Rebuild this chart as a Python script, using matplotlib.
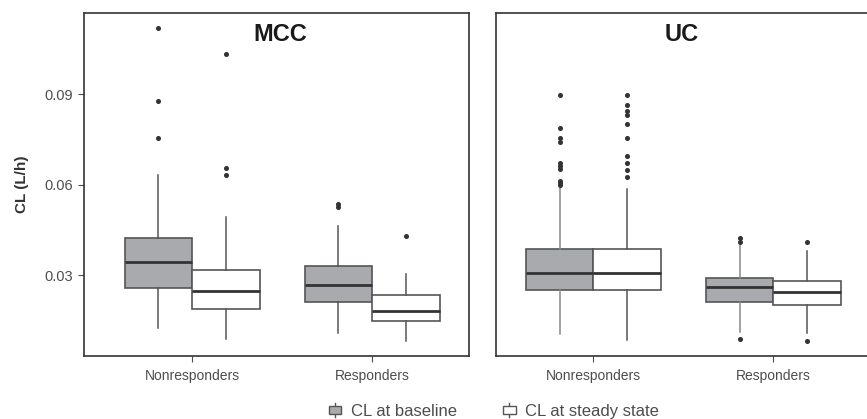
import numpy as np
import matplotlib
matplotlib.use("Agg")
import matplotlib.pyplot as plt
from matplotlib.patches import Rectangle
from matplotlib.lines import Line2D
from matplotlib.legend_handler import HandlerBase

plt.rcParams['font.family'] = ['Liberation Sans', 'DejaVu Sans']

# categories and series
groups = ["Nonresponders", "Responders"]
series = ["CL at baseline", "CL at steady state"]

# box stats per panel: [nonresponders, responders] for each series
# (whislo, q1, median, q3, whishi)
mcc_base = [(0.0127, 0.0259, 0.0343, 0.0424, 0.0634),
            (0.0109, 0.0213, 0.0268, 0.0332, 0.0464)]
mcc_ss = [(0.0089, 0.0188, 0.0249, 0.0318, 0.0492),
          (0.0082, 0.0148, 0.0181, 0.0234, 0.0304)]
mcc_base_out = [[0.1119, 0.0879, 0.0755],
                [0.0536, 0.0525]]
mcc_ss_out = [[0.1032, 0.0656, 0.0631],
              [0.0429]]

uc_base = [(0.0105, 0.0251, 0.0307, 0.0387, 0.0588),
           (0.0113, 0.0211, 0.0261, 0.0290, 0.0404)]
uc_ss = [(0.0086, 0.0251, 0.0309, 0.0387, 0.0585),
         (0.0108, 0.0203, 0.0246, 0.0282, 0.0381)]
uc_base_out = [[0.0897, 0.0787, 0.0754, 0.0741, 0.0671, 0.0662, 0.0653,
                0.0613, 0.0606, 0.0598],
               [0.0423, 0.0410, 0.0089]]
uc_ss_out = [[0.0897, 0.0864, 0.0845, 0.0831, 0.0800, 0.0754, 0.0694,
              0.0671, 0.0648, 0.0625],
             [0.0412, 0.0082]]

yticks = [0.03, 0.06, 0.09]
ytick_labels = ["0.03", "0.06", "0.09"]

base_fill = "#a9aaae"
edge = "#555555"
txt = "#4d4d4d"


def make_stats(vals, outs):
    st = []
    for (lo, q1, med, q3, hi), fl in zip(vals, outs):
        st.append(dict(whislo=lo, q1=q1, med=med, q3=q3, whishi=hi, fliers=fl))
    return st


def draw_panel(ax, base, base_out, ss, ss_out, title, xlim, whisk_col):
    pos = np.arange(len(groups))
    w = 0.375
    for stats, offs, fill, wc in [(make_stats(base, base_out), -w / 2, base_fill, whisk_col),
                                  (make_stats(ss, ss_out), w / 2, "white", edge)]:
        ax.bxp(stats, positions=pos + offs, widths=w, showcaps=False,
               patch_artist=True,
               boxprops=dict(facecolor=fill, edgecolor=edge, linewidth=1.2),
               medianprops=dict(color="#333333", linewidth=2),
               whiskerprops=dict(color=wc, linewidth=1.1),
               flierprops=dict(marker="o", markersize=2.6, markerfacecolor="#333333",
                               markeredgecolor="#333333", linestyle="none"))
    ax.set_xlim(*xlim)
    ax.set_ylim(0.0033, 0.1169)
    ax.set_xticks(pos)
    ax.set_xticklabels(groups, fontsize=10, color=txt)
    ax.tick_params(axis="x", length=4, color=txt, pad=5)
    ax.text(0.49, 0.1076, title, ha="center", va="baseline", fontsize=17,
            fontweight="bold", color="#1a1a1a")
    for s in ax.spines.values():
        s.set_color("#333333")
        s.set_linewidth(1.2)


fig = plt.figure(figsize=(8.67, 4.19), dpi=100)
ax1 = fig.add_axes([84 / 867, 63 / 419, 385 / 867, 343 / 419])
ax2 = fig.add_axes([495.7 / 867, 63 / 419, 371.3 / 867, 343 / 419])

draw_panel(ax1, mcc_base, mcc_base_out, mcc_ss, mcc_ss_out, "MCC", (-0.6, 1.538), edge)
draw_panel(ax2, uc_base, uc_base_out, uc_ss, uc_ss_out, "UC", (-0.542, 1.52), "#888888")

ax1.set_yticks(yticks)
ax1.set_yticklabels(ytick_labels, fontsize=10.5, color=txt)
ax1.tick_params(axis="y", length=4, color=txt, pad=4)
ax1.set_ylabel("CL (L/h)", fontsize=11, fontweight="bold", color="#333333", labelpad=11)
ax2.set_yticks([])
ax2.spines["right"].set_visible(False)


class BoxIcon(HandlerBase):
    def create_artists(self, legend, orig, xd, yd, width, height, fontsize, trans):
        cx = xd + width / 2
        bw = width * 0.75
        bh = height * 0.75
        r = Rectangle((cx - bw / 2, yd + (height - bh) / 2), bw, bh,
                      facecolor=orig.get_facecolor(), edgecolor=edge, linewidth=1,
                      transform=trans)
        l1 = Line2D([cx, cx], [yd - height * 0.1, yd + height * 1.1], color=edge,
                    linewidth=1, transform=trans)
        return [l1, r]


handles = [Rectangle((0, 0), 1, 1, facecolor=base_fill),
           Rectangle((0, 0), 1, 1, facecolor="white")]
fig.legend(handles, series, handler_map={Rectangle: BoxIcon()}, loc="center left",
           bbox_to_anchor=(320 / 867, 0.018), ncol=2, frameon=False, fontsize=12,
           handlelength=1.0, handleheight=0.7, handletextpad=0.45, columnspacing=2.65,
           labelcolor=txt, borderaxespad=0)

fig.savefig("out.png", dpi=100)
